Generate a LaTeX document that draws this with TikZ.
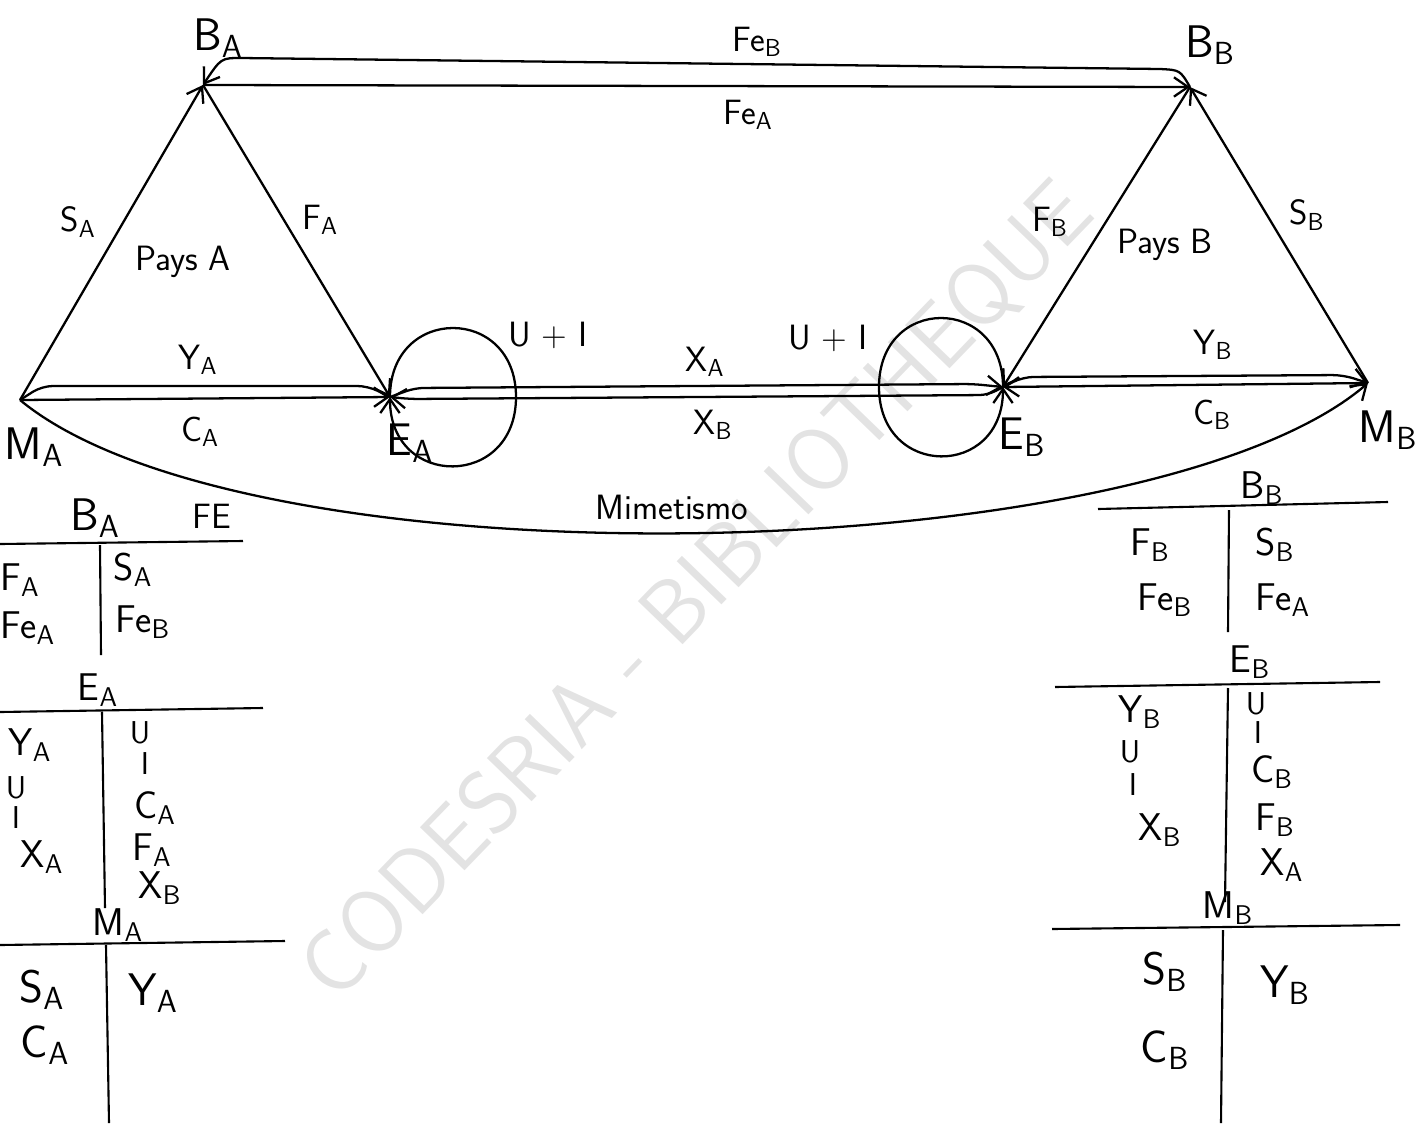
\documentclass[tikz,border=0pt]{standalone}
\usepackage{xcolor}
\usetikzlibrary{arrows.meta, calc}

\newcommand{\ix}[2]{#1\textsubscript{#2}}

\begin{document}
\begin{tikzpicture}[
  x=0.02cm, y=-0.02cm,
  flow/.style={line width=1.3pt, -{Straight Barb[length=8pt,width=11pt,line width=1.3pt]}},
  plain/.style={line width=1.3pt},
  vert/.style={font=\sffamily\fontsize{26}{28}\selectfont},
  lab/.style={font=\sffamily\fontsize{20}{22}\selectfont},
  acct/.style={font=\sffamily\fontsize{22}{24}\selectfont},
  small/.style={font=\sffamily\fontsize{18}{20}\selectfont},
  tline/.style={line width=1.2pt}
]
  \useasboundingbox (0,0) rectangle (1424,1123);

  % watermark
  \node[rotate=46, text=gray!22, font=\sffamily\fontsize{51}{51}\selectfont] (wm) at (698,592) {CODESRIA - BIBLIOTHEQUE};

  % circuit points
  \coordinate (MA) at (20,400);
  \coordinate (BA) at (203,85);
  \coordinate (EA) at (390,397);
  \coordinate (BB) at (1190,87);
  \coordinate (EB) at (1003,387);
  \coordinate (MB) at (1368,383);

  \node[vert] (lBA) at (218,38)   {\ix{B}{A}};
  \node[vert] (lMA) at (34,447)   {\ix{M}{A}};
  \node[vert] (lEA) at (410,443)  {\ix{E}{A}};
  \node[vert] (lBB) at (1210,45)  {\ix{B}{B}};
  \node[vert] (lEB) at (1022,437) {\ix{E}{B}};
  \node[vert] (lMB) at (1388,430) {\ix{M}{B}};

  % pays A
  \draw[flow] (MA) -- (BA);
  \draw[flow] (BA) -- (EA);
  \draw[plain, rounded corners=6] (EA) -- ($(EA)+(-22,-11)$) -- ($(MA)+(22,-14)$) -- (MA);
  \draw[flow] (MA) -- (EA);
  \draw[flow] (EA) .. controls ($(EA)+(0,-92)$) and ($(EA)+(126,-92)$) .. ($(EA)+(126,0)$)
                   .. controls ($(EA)+(126,92)$) and ($(EA)+(0,92)$) .. (EA);

  % pays B
  \draw[flow] (MB) -- (BB);
  \draw[flow] (BB) -- (EB);
  \draw[flow, rounded corners=6] (EB) -- ($(EB)+(20,-10)$) -- ($(MB)+(-25,-8)$) -- (MB);
  \draw[flow] (MB) -- (EB);
  \draw[flow] (EB) .. controls ($(EB)+(0,-92)$) and ($(EB)+(-124,-92)$) .. ($(EB)+(-124,0)$)
                   .. controls ($(EB)+(-124,92)$) and ($(EB)+(0,92)$) .. (EB);

  % between the two
  \draw[flow] (BA) -- (BB);
  \draw[flow] (BB) .. controls ($(BB)+(-10,-17)$) .. ($(BB)+(-30,-18)$) -- ($(BA)+(38,-27)$)
                   .. controls ($(BA)+(18,-27)$) .. (BA);
  \draw[flow, rounded corners=5] (EA) -- ($(EA)+(25,-9)$) -- ($(EB)+(-30,-3)$) -- (EB);
  \draw[flow, rounded corners=5] (EB) -- ($(EB)+(-15,8)$) -- ($(EA)+(20,2)$) -- (EA);
  \draw[flow] (MA) .. controls (250,590) and (1150,570) .. (MB);

  % flow labels
  \node[lab] (sA)  at (78,222)   {\ix{S}{A}};
  \node[lab] (fA)  at (320,220)  {\ix{F}{A}};
  \node[lab] (pA)  at (183,262)  {Pays A};
  \node[lab] (yA)  at (198,360)  {\ix{Y}{A}};
  \node[lab] (cA)  at (200,432)  {\ix{C}{A}};
  \node[lab] (uiA) at (548,335)  {U + I};
  \node[lab] (feB) at (757,42)   {\ix{Fe}{B}};
  \node[lab] (feA) at (748,115)  {\ix{Fe}{A}};
  \node[lab] (xA)  at (705,362)  {\ix{X}{A}};
  \node[lab] (xB)  at (713,425)  {\ix{X}{B}};
  \node[lab] (uiB) at (828,338)  {U + I};
  \node[lab] (fB)  at (1050,222) {\ix{F}{B}};
  \node[lab] (pB)  at (1165,245) {Pays B};
  \node[lab] (sB)  at (1307,215) {\ix{S}{B}};
  \node[lab] (yB)  at (1213,345) {\ix{Y}{B}};
  \node[lab] (cB)  at (1212,415) {\ix{C}{B}};
  \node[lab] (mim) at (672,507)  {Mimetismo};

  % comptes du pays A
  \node[vert] (tBA) at (95,518)  {\ix{B}{A}};
  \node[lab]  (tFE) at (212,516) {FE};
  \draw[tline] (0,544) -- (243,541);
  \draw[tline] (100,545) -- (101,655);
  \node[acct] at (20,580)  {\ix{F}{A}};
  \node[acct] at (28,628)  {\ix{Fe}{A}};
  \node[acct] at (133,570) {\ix{S}{A}};
  \node[acct] at (143,622) {\ix{Fe}{B}};

  \node[acct] (tEA) at (98,690) {\ix{E}{A}};
  \draw[tline] (0,712) -- (263,708);
  \draw[tline] (102,712) -- (105,908);
  \node[acct]  at (30,745)  {\ix{Y}{A}};
  \node[small] at (16,788)  {U};
  \node[small] at (16,818)  {I};
  \node[acct]  at (42,857)  {\ix{X}{A}};
  \node[small] at (140,733) {U};
  \node[small] at (145,764) {I};
  \node[acct]  at (155,808) {\ix{C}{A}};
  \node[acct]  at (152,850) {\ix{F}{A}};
  \node[acct]  at (160,888) {\ix{X}{B}};

  \node[acct] (tMA) at (118,925) {\ix{M}{A}};
  \draw[tline] (0,945) -- (285,941);
  \draw[tline] (106,945) -- (109,1123);
  \node[vert] at (42,990)  {\ix{S}{A}};
  \node[vert] at (45,1045) {\ix{C}{A}};
  \node[vert] at (153,993) {\ix{Y}{A}};

  % comptes du pays B
  \node[acct] (tBB) at (1262,488) {\ix{B}{B}};
  \draw[tline] (1098,509) -- (1388,502);
  \draw[tline] (1229,510) -- (1228,632);
  \node[acct] at (1150,545) {\ix{F}{B}};
  \node[acct] at (1165,600) {\ix{Fe}{B}};
  \node[acct] at (1275,545) {\ix{S}{B}};
  \node[acct] at (1283,600) {\ix{Fe}{A}};

  \node[acct] (tEB) at (1250,662) {\ix{E}{B}};
  \draw[tline] (1055,687) -- (1380,682);
  \draw[tline] (1228,688) -- (1225,902);
  \node[acct]  at (1140,712) {\ix{Y}{B}};
  \node[small] at (1130,752) {U};
  \node[small] at (1133,785) {I};
  \node[acct]  at (1160,830) {\ix{X}{B}};
  \node[small] at (1256,704) {U};
  \node[small] at (1258,733) {I};
  \node[acct]  at (1272,772) {\ix{C}{B}};
  \node[acct]  at (1275,820) {\ix{F}{B}};
  \node[acct]  at (1282,865) {\ix{X}{A}};

  \node[acct] (tMB) at (1228,908) {\ix{M}{B}};
  \draw[tline] (1052,929) -- (1400,925);
  \draw[tline] (1223,930) -- (1221,1123);
  \node[vert] at (1165,972)  {\ix{S}{B}};
  \node[vert] at (1165,1050) {\ix{C}{B}};
  \node[vert] at (1285,985)  {\ix{Y}{B}};
\end{tikzpicture}
\end{document}
